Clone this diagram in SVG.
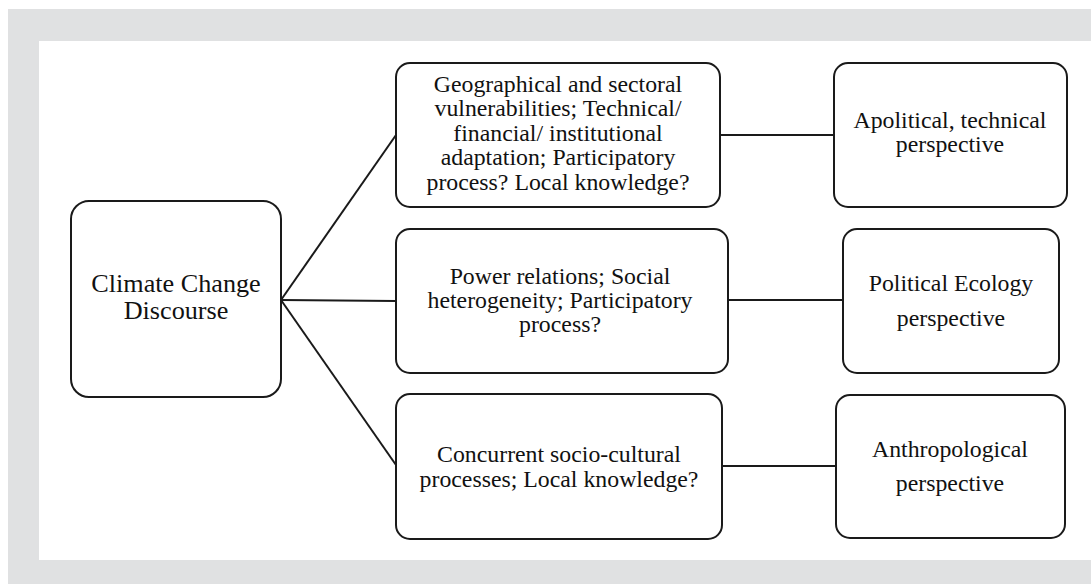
<svg xmlns="http://www.w3.org/2000/svg" width="1091" height="584" viewBox="0 0 1091 584">
<style>
.box{fill:#fff;stroke:#1a1a1a;stroke-width:2}
.t{font-family:"Liberation Serif","Times New Roman",serif;font-size:23.8px;fill:#111;text-anchor:middle}
.r{font-size:26.2px}
.c{stroke:#1a1a1a;stroke-width:2;fill:none}
</style>
<rect x="0" y="0" width="1091" height="584" fill="#fff"/>
<rect x="8" y="9" width="1083" height="575" fill="#e0e1e2"/>
<rect x="39" y="41" width="1052" height="519" fill="#fff"/>
<g id="connectors">
<line class="c" x1="281" y1="300" x2="396" y2="135"/>
<line class="c" x1="281" y1="300" x2="396" y2="301"/>
<line class="c" x1="281" y1="300" x2="396" y2="465"/>
<line class="c" x1="720" y1="135" x2="834" y2="135"/>
<line class="c" x1="728" y1="300" x2="843" y2="300"/>
<line class="c" x1="722" y1="466" x2="836" y2="466"/>
</g>
<g id="root">
<rect class="box" x="71" y="201" width="210" height="196" rx="18"/>
<text class="t r" x="176" y="292">Climate Change</text>
<text class="t r" x="176" y="319">Discourse</text>
</g>
<g id="mid1">
<rect class="box" x="396" y="63" width="324" height="144" rx="14"/>
<text class="t" x="558" y="92">Geographical and sectoral</text>
<text class="t" x="558" y="116">vulnerabilities;  Technical/</text>
<text class="t" x="558" y="141">financial/ institutional</text>
<text class="t" x="558" y="165">adaptation; Participatory</text>
<text class="t" x="558" y="190">process? Local knowledge?</text>
</g>
<g id="mid2">
<rect class="box" x="396" y="229" width="332" height="144" rx="14"/>
<text class="t" x="560" y="284">Power relations; Social</text>
<text class="t" x="560" y="308">heterogeneity; Participatory</text>
<text class="t" x="560" y="332">process?</text>
</g>
<g id="mid3">
<rect class="box" x="396" y="394" width="326" height="145" rx="14"/>
<text class="t" x="559" y="462">Concurrent socio-cultural</text>
<text class="t" x="559" y="487">processes; Local knowledge?</text>
</g>
<g id="right1">
<rect class="box" x="834" y="63" width="233" height="144" rx="14"/>
<text class="t" x="950" y="128">Apolitical, technical</text>
<text class="t" x="950" y="152">perspective</text>
</g>
<g id="right2">
<rect class="box" x="843" y="229" width="216" height="144" rx="14"/>
<text class="t" x="951" y="291">Political Ecology</text>
<text class="t" x="951" y="326">perspective</text>
</g>
<g id="right3">
<rect class="box" x="836" y="395" width="229" height="143" rx="14"/>
<text class="t" x="950" y="457">Anthropological</text>
<text class="t" x="950" y="491">perspective</text>
</g>
</svg>
